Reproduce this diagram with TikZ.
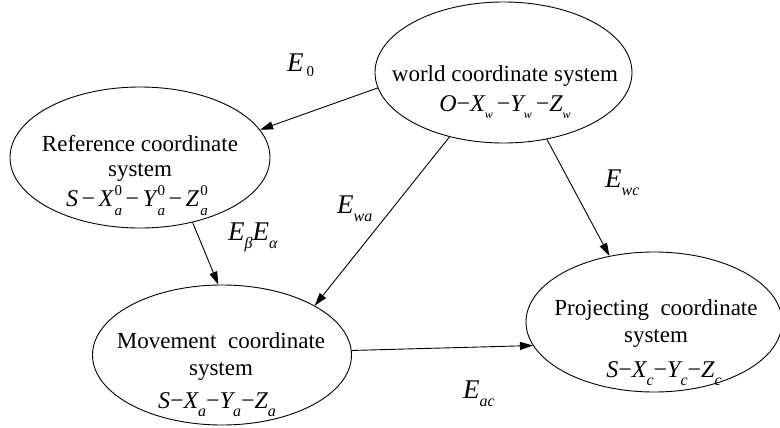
\documentclass[tikz,border=0pt]{standalone}
\usepackage{fontspec}
\setmainfont{Liberation Serif}
\usetikzlibrary{shapes.geometric,arrows.meta}

% type sizes
\newcommand\lbl{\fontsize{23}{27}\selectfont}
\newcommand\mth{\fontsize{24}{28}\selectfont\itshape}
\newcommand\Esym{{\fontsize{27}{30}\selectfont\itshape E}}
% lowered indices
\newcommand\lowr[1]{\raisebox{-8pt}{\fontsize{16}{16}\selectfont\itshape #1}}
\newcommand\smalllow[1]{\raisebox{-7pt}{\fontsize{12}{12}\selectfont\itshape #1}}
% index pair: upright superscript stacked over italic subscript
\newcommand\both[2]{\hspace{1.5pt}\raisebox{-9pt}{\fontsize{15}{15}\selectfont
  \begin{tabular}[b]{@{}l@{}}\upshape #1\\[5pt]\itshape #2\end{tabular}}}
\newcommand\mn{{\upshape −}}
\newcommand\mns{\hspace{3.5pt}{\upshape −}\hspace{3.5pt}}

\begin{document}
\begin{tikzpicture}[x=1pt,y=-1pt,
  frame/.style={draw,ellipse,line width=0.9pt,inner sep=0pt},
  txt/.style={anchor=base,inner sep=0pt,font=\lbl},
  formula/.style={anchor=base,inner sep=0pt},
  tag/.style={anchor=base west,inner sep=0pt},
  link/.style={line width=0.9pt,-{Triangle[length=13pt,width=8pt]}}]
\useasboundingbox (0,0) rectangle (780,428);
\fill[white] (0,0) rectangle (780,428);

% coordinate system ellipses
\node[frame,minimum width=257pt,minimum height=141pt] (world) at (503.5,72.5) {};
\node[frame,minimum width=260pt,minimum height=141pt] (ref)   at (140,157.5) {};
\node[frame,minimum width=259pt,minimum height=140pt] (move)  at (222,355) {};
\node[frame,minimum width=256pt,minimum height=140pt] (proj)  at (654,322) {};

% world
\node[txt] (worldname) at (505,82) {world coordinate system};
\node[formula] (worldeq) at (505,112) {\mth O\mn X\smalllow{w}\,\mn Y\smalllow{w}\,\mn Z\smalllow{w}};

% reference
\node[txt] (refname1) at (140,151) {Reference coordinate};
\node[txt] (refname2) at (140,176) {system};
\node[formula] (refeq) at (137,206) {\mth S\mns X\both{0}{a}\mns Y\both{0}{a}\mns Z\both{0}{a}};

% movement
\node[txt] (movename1) at (221,348) {Movement~~coordinate};
\node[txt] (movename2) at (221,375) {system};
\node[formula] (moveeq) at (217,408) {\mth S\mn X\lowr{a}\mn Y\lowr{a}\mn Z\lowr{a}};

% projecting
\node[txt] (projname1) at (656,315) {Projecting~~coordinate};
\node[txt] (projname2) at (656,342) {system};
\node[formula] (projeq) at (664,377) {\mth S\mn X\lowr{c}\mn Y\lowr{c}\mn Z\lowr{c}};

% transformations
\draw[link] (world.187) -- (ref.13.8);
\draw[link] (ref.309) -- (move.93);
\draw[link] (world.230) -- (move.28);
\draw[link] (world.303) -- (proj.124);
\draw[link] (move.2) -- (proj.191.5);

% transformation labels
\node[tag] (e0)  at (287,72)  {\Esym\hspace{3pt}\raisebox{-5pt}{\fontsize{15}{15}\selectfont 0}};
\node[tag] (ewa) at (337,213) {\Esym\lowr{wa}};
\node[tag] (eba) at (228,240) {\Esym\lowr{β}\Esym\lowr{α}};
\node[tag] (ewc) at (605,187) {\Esym\lowr{wc}};
\node[tag] (eac) at (463,398) {\Esym\lowr{ac}};
\end{tikzpicture}
\end{document}
